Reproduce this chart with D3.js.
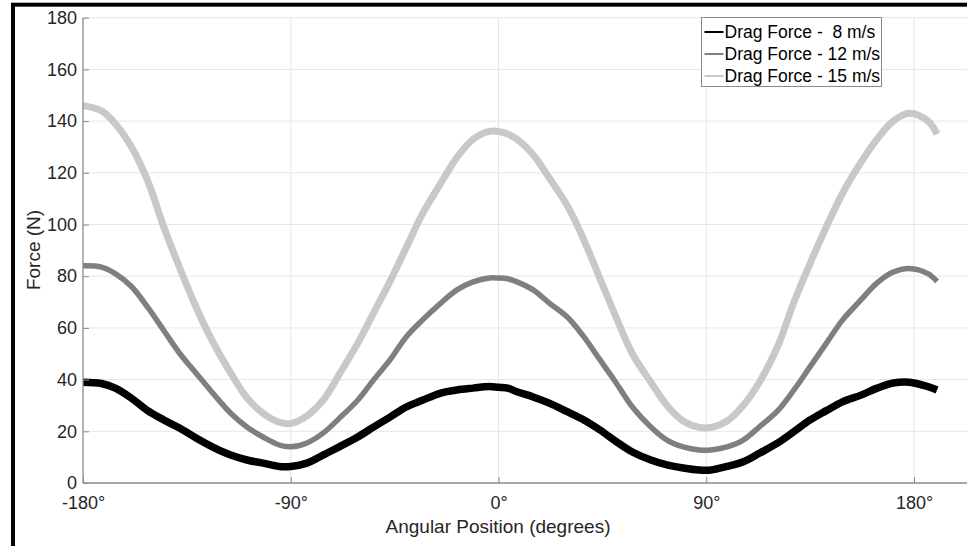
<!DOCTYPE html>
<html>
<head>
<meta charset="utf-8">
<script src="https://cdn.jsdelivr.net/npm/d3@7"></script>
<style>
  body { margin: 0; background: #fff; }
  svg { display: block; font-family: "Liberation Sans", Arial, sans-serif; }
</style>
</head>
<body>
<svg id="chart"></svg>
<script>
// angular positions (degrees) where the curves were read
const angles = [-180,-172,-166,-159,-152,-145,-138,-131,-124,-116,-109,-102,-95,-90,-83,-76,-69,-61,-54,-47,-40,-33,-25,-18,-11,-4,0,4,8,15,22,30,37,44,51,58,66,73,80,87,92,99,106,113,121,128,135,142,149,157,164,171,178,186,190];

const force8 = [39,38.5,36.7,32.8,28,24.4,21.2,17.4,14,10.8,8.9,7.7,6.4,6.4,7.7,10.8,14,17.8,21.7,25.5,29.4,32,34.8,36,36.7,37.3,37,36.7,35.3,33.3,30.9,27.5,24.4,20.5,16,12,8.9,7,5.8,5,5,6.4,8.2,11.5,15.5,19.9,24.4,28,31.4,34,36.7,38.7,39,37.3,36];
const force12 = [84,83.5,81,76,68,59,50,42.5,35,27,21.7,17.8,14.7,14,15.5,19.3,25,32,40,47.6,56.5,63,69.6,74.7,77.8,79.3,79.3,79,77.8,74.7,69.6,64,56.5,47.6,38.7,29.4,21.7,16.6,14,12.8,12.8,14,16.6,21.7,28,36,45,54,63,70.8,77.4,81.6,83,81,78];
const force15 = [146,144,139,130,117,99,83,68,55,42.5,33,27,23.5,23,26,32,42,54,66,78,91,104,116,126,133,136,136,135,133,127,118,107,94,79,64,50,39,30,24,21.5,21.5,24,30,39,53,70,85,99,112,124,133,140,143,140,135];

const seriesNames = ["Drag Force -  8 m/s", "Drag Force - 12 m/s", "Drag Force - 15 m/s"];
const xTicks = [-180, -90, 0, 90, 180];
const yTicks = [0, 20, 40, 60, 80, 100, 120, 140, 160, 180];

const width = 967, height = 546;
const svg = d3.select("#chart").attr("width", width).attr("height", height);

const x = d3.scaleLinear().domain([-180, 180]).range([83, 914]);
const y = d3.scaleLinear().domain([0, 180]).range([483, 17.7]);
const xRight = 1000; // axes box runs past the right edge of the picture

// grid
svg.append("g").selectAll("line").data(yTicks.slice(1)).enter().append("line")
    .attr("x1", x(-180)).attr("x2", xRight)
    .attr("y1", d => y(d)).attr("y2", d => y(d))
    .attr("stroke", "#e6e6e6").attr("stroke-width", 1);
svg.append("g").selectAll("line").data(xTicks.slice(1)).enter().append("line")
    .attr("x1", d => x(d)).attr("x2", d => x(d))
    .attr("y1", y(0)).attr("y2", y(180))
    .attr("stroke", "#e6e6e6").attr("stroke-width", 1);

// curves
const series = [
  { values: force15, color: "#c8c8c8", w: 7 },
  { values: force12, color: "#7f7f7f", w: 5.5 },
  { values: force8, color: "#000000", w: 7.5 }
];
const line = d3.line()
    .x((d, i) => x(angles[i]))
    .y(d => y(d))
    .curve(d3.curveCatmullRom.alpha(0.5));
svg.append("g").selectAll("path").data(series).enter().append("path")
    .attr("fill", "none")
    .attr("stroke", d => d.color)
    .attr("stroke-width", d => d.w)
    .attr("stroke-linejoin", "round")
    .attr("d", d => line(d.values));

// axes
const axisColor = "#8a8a8a";
const yAxis = svg.append("g").attr("transform", "translate(" + x(-180) + ",0)")
    .call(d3.axisLeft(y).tickValues(yTicks).tickSize(-6).tickPadding(6).tickFormat(d3.format("d")));
const xAxis = svg.append("g").attr("transform", "translate(0," + y(0) + ")")
    .call(d3.axisBottom(x).tickValues(xTicks).tickSize(-6).tickPadding(13).tickFormat(d => d + "°"));
[xAxis, yAxis].forEach(g => {
  g.select(".domain").remove();
  g.selectAll(".tick line").attr("stroke", axisColor);
  g.selectAll(".tick text").attr("fill", "#262626").attr("font-size", 18)
      .attr("font-family", "Liberation Sans, Arial, sans-serif");
});
yAxis.selectAll(".tick text").attr("dy", "0.32em");
svg.append("line").attr("x1", x(-180)).attr("x2", x(-180)).attr("y1", y(0)).attr("y2", y(180))
    .attr("stroke", axisColor).attr("stroke-width", 1.3);
svg.append("line").attr("x1", x(-180)).attr("x2", xRight).attr("y1", y(0)).attr("y2", y(0))
    .attr("stroke", axisColor).attr("stroke-width", 1.3);

// axis titles
svg.append("text").attr("x", 498).attr("y", 533).attr("text-anchor", "middle")
    .attr("font-size", 19).attr("fill", "#262626").text("Angular Position (degrees)");
svg.append("text").attr("transform", "translate(40,250) rotate(-90)").attr("text-anchor", "middle")
    .attr("font-size", 19).attr("fill", "#262626").text("Force (N)");

// legend
const legend = svg.append("g").attr("transform", "translate(701.5,17.5)");
legend.append("rect").attr("width", 180).attr("height", 69)
    .attr("fill", "#fff").attr("stroke", "#8a8a8a").attr("stroke-width", 1);
const legendColors = ["#000000", "#7f7f7f", "#c8c8c8"];
const rows = legend.selectAll("g.row").data(seriesNames).enter().append("g")
    .attr("transform", (d, i) => "translate(0," + (14.5 + i * 22) + ")");
rows.append("line").attr("x1", 3).attr("x2", 22).attr("y1", 0).attr("y2", 0)
    .attr("stroke", (d, i) => legendColors[i]).attr("stroke-width", 2);
rows.append("text").attr("x", 23).attr("y", 6).attr("font-size", 17.5).attr("fill", "#000")
    .attr("xml:space", "preserve").style("white-space", "pre").text(d => d);

// outer frame
svg.append("rect").attr("x", 13).attr("y", 4.7).attr("width", 1000).attr("height", 700)
    .attr("fill", "none").attr("stroke", "#000").attr("stroke-width", 4);
</script>
</body>
</html>
